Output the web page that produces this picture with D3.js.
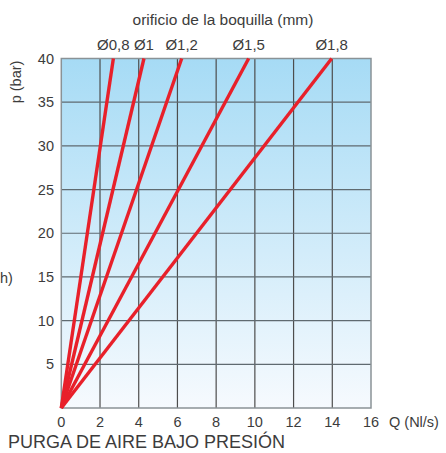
<!DOCTYPE html>
<html><head><meta charset="utf-8">
<script src="https://cdn.jsdelivr.net/npm/d3@7/dist/d3.min.js"></script>
<style>body{margin:0;background:#fff}svg{display:block}text{font-family:"Liberation Sans",Arial,sans-serif;fill:#3c3c3c}</style>
</head><body>
<script>
const nozzles = ["Ø0,8","Ø1","Ø1,2","Ø1,5","Ø1,8"];
const flowAt40 = [2.69, 4.27, 6.22, 9.68, 13.97];
const pressureMax = 40;
const xTicks = [0,2,4,6,8,10,12,14,16];
const yTicks = [5,10,15,20,25,30,35,40];

const W=446,H=453;
const svg=d3.select("body").append("svg").attr("width",W).attr("height",H);
const L=61.3,R=371,T=58.5,B=408;
const x=d3.scaleLinear().domain([0,16]).range([L,R]);
const y=d3.scaleLinear().domain([0,40]).range([B,T]);

const defs=svg.append("defs");
const g=defs.append("linearGradient").attr("id","bg").attr("x1",0).attr("y1",0).attr("x2",0).attr("y2",1);
g.append("stop").attr("offset","0%").attr("stop-color","#a6dbf5");
g.append("stop").attr("offset","100%").attr("stop-color","#f6fafe");
svg.append("rect").attr("x",L).attr("y",T).attr("width",R-L).attr("height",B-T).attr("fill","url(#bg)");

// grid
svg.append("g").selectAll("line").data(xTicks.slice(1,-1)).join("line")
 .attr("x1",d=>x(d)).attr("x2",d=>x(d)).attr("y1",T).attr("y2",B)
 .attr("stroke","#4d4d4d").attr("stroke-width",1.2);
svg.append("g").selectAll("line").data(yTicks.slice(0,-1)).join("line")
 .attr("y1",d=>y(d)).attr("y2",d=>y(d)).attr("x1",L).attr("x2",R)
 .attr("stroke","#5f6a70").attr("stroke-width",1.2);
svg.append("rect").attr("x",L).attr("y",T).attr("width",R-L).attr("height",B-T)
 .attr("fill","none").attr("stroke","#8a9296").attr("stroke-width",1.5);

// lines
const line=d3.line().x(d=>x(d[0])).y(d=>y(d[1]));
svg.append("g").selectAll("path").data(flowAt40).join("path")
 .attr("d",q=>line([[0,0],[q,pressureMax]]))
 .attr("fill","none").attr("stroke","#e8202a").attr("stroke-width",3.4).attr("stroke-linecap","butt");

// x tick labels
svg.append("g").selectAll("text").data(xTicks).join("text")
 .attr("x",d=>x(d)).attr("y",427).attr("text-anchor","middle").attr("font-size",14.5).text(d=>d);
svg.append("text").attr("x",389).attr("y",427).attr("font-size",14.5).text("Q (Nl/s)");
// y tick labels
svg.append("g").selectAll("text").data(yTicks).join("text")
 .attr("x",54).attr("y",d=>y(d)+5).attr("text-anchor","end").attr("font-size",14.5).text(d=>d);
svg.append("text").attr("transform","translate(21,82) rotate(-90)").attr("text-anchor","middle").attr("font-size",14.5).text("p (bar)");
svg.append("text").attr("x",0).attr("y",283).attr("font-size",14.5).text("h)");

// top labels
svg.append("g").selectAll("text").data(nozzles).join("text")
 .attr("x",(d,i)=>x(flowAt40[i])).attr("y",50).attr("text-anchor","middle").attr("font-size",15).text(d=>d);
svg.append("text").attr("x",223).attr("y",25).attr("text-anchor","middle").attr("font-size",15.5).text("orificio de la boquilla (mm)");
svg.append("text").attr("x",8).attr("y",448).attr("font-size",18).text("PURGA DE AIRE BAJO PRESIÓN");
</script>
</body></html>
